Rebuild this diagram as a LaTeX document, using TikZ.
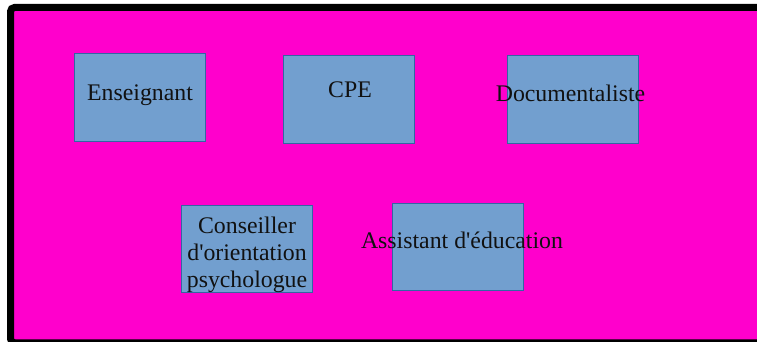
\documentclass[tikz,border=0pt]{standalone}
\usepackage{fontspec}
\setmainfont{Liberation Serif}
\newfontfamily\rolefont{Liberation Serif}[Ligatures=ResetAll]
\definecolor{bgmag}{HTML}{FF00CC}
\definecolor{boxfill}{HTML}{729FCF}
\definecolor{boxline}{HTML}{3465A4}
\definecolor{txt}{HTML}{111111}
\begin{document}
\begin{tikzpicture}[x=1pt,y=-1pt,
  rolebox/.style={draw=boxline,fill=boxfill,line width=1pt,inner sep=0pt,
    minimum width=131pt,minimum height=87pt},
  roletext/.style={anchor=base,inner sep=0pt,text=txt,align=center,
    font=\rolefont\fontsize{23.8}{27}\selectfont}]
\useasboundingbox (0,0) rectangle (757,342);
\clip (0,0) rectangle (757,342);
\draw[line width=7pt,fill=bgmag,rounded corners=4pt] (10.5,7.5) rectangle (775,342.8);
% boxes
\node[rolebox] (b1) at (139.5,97.5) {};
\node[rolebox] (b2) at (348.5,99.5) {};
\node[rolebox] (b3) at (572.5,99.5) {};
\node[rolebox] (b4) at (247,248.5) {};
\node[rolebox] (b5) at (458,247) {};
% texts
\node[roletext] (t1) at (140,101) {Enseignant};
\node[roletext] (t2) at (350,97.5) {CPE};
\node[roletext] (t3) at (570.5,101.5) {Documentaliste};
\node[roletext] (t4a) at (247,233.5) {Conseiller};
\node[roletext] (t4b) at (247,260.5) {d'orientation};
\node[roletext] (t4c) at (247,287.5) {psychologue};
\node[roletext] (t5) at (462,248.5) {Assistant d'éducation};
\end{tikzpicture}
\end{document}
